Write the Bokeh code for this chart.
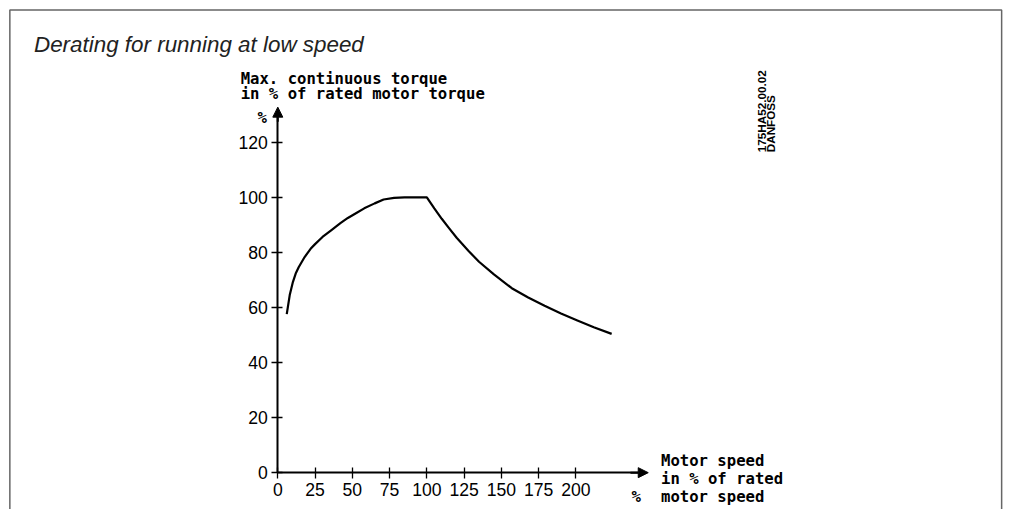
import math
from bokeh.plotting import figure
from bokeh.models import (LinearAxis, FixedTicker, Arrow, NormalHead, Label, BoxAnnotation)
from bokeh.embed import file_html
from bokeh.resources import INLINE

# ---- data ----
speed = [6, 8, 10, 12, 14, 18, 22, 25, 30, 36, 42, 47, 53, 58, 65, 71, 78, 85, 92, 100,
         105, 110, 115, 120, 128, 135, 145, 157, 168, 179, 190, 201, 212, 224]
torque = [57.6, 64.5, 69.0, 72.3, 74.6, 78.3, 81.3, 83.0, 85.6, 88.1, 90.6, 92.5, 94.4, 96.0,
          97.8, 99.2, 99.8, 100, 100, 100,
          96.0, 92.2, 88.7, 85.3, 80.5, 76.6, 72.0, 67.0, 63.6, 60.6, 57.8, 55.3, 52.8, 50.4]
x_ticks = [0, 25, 50, 75, 100, 125, 150, 175, 200]
y_ticks = [0, 20, 40, 60, 80, 100, 120]

title_text = "Derating for running at low speed"
y_label_lines = ["Max. continuous torque", "in % of rated motor torque"]
x_label_lines = ["Motor speed", "in % of rated", "motor speed"]
code_lines = ["175HA52.00.02", "DANFOSS"]

# ---- reference-pixel -> data helpers (layout only) ----
REF_W, REF_H = 1026, 525
W, H = 1010, 509
X0PX, XS = 281.7, 1.514
Y0PX, YS = 487.0, 2.84
F = 0.975  # size factor canvas/reference


def dx(px):
    return (px - X0PX) / XS


def dy(py):
    return (Y0PX - py) / YS


def fs(px):
    return "%.1fpx" % (px * F)


p = figure(width=W, height=H, x_range=(dx(0), dx(REF_W)), y_range=(dy(REF_H), dy(0)),
           output_backend="svg", toolbar_location=None,
           x_axis_type=None, y_axis_type=None,
           min_border=0, min_border_left=0, min_border_right=0,
           min_border_top=0, min_border_bottom=0)
p.outline_line_color = None
p.background_fill_color = "white"
p.border_fill_color = "white"
p.xgrid.visible = False
p.ygrid.visible = False

# frame border (open at the bottom: its lower edge lies beyond the canvas)
p.add_layout(BoxAnnotation(left=dx(9.5), right=dx(1017), top=dy(9.8), bottom=dy(560),
                           fill_color=None, fill_alpha=0, line_color="#666666",
                           line_width=1.5, line_alpha=1))


def style_axis(ax):
    ax.axis_line_width = 2
    ax.axis_line_color = "black"
    ax.major_tick_in = 5
    ax.major_tick_out = 6
    ax.major_tick_line_width = 1.3
    ax.major_tick_line_color = "black"
    ax.minor_tick_line_color = None
    ax.major_label_text_font = "Liberation Sans"
    ax.major_label_text_font_size = fs(18)
    ax.major_label_text_color = "black"
    ax.major_label_standoff = 4


xaxis = LinearAxis(fixed_location=0, bounds=(0, dx(648)), ticker=FixedTicker(ticks=x_ticks))
style_axis(xaxis)
p.add_layout(xaxis, "below")

yaxis = LinearAxis(fixed_location=0, bounds=(0, dy(120)), ticker=FixedTicker(ticks=y_ticks))
style_axis(yaxis)
p.add_layout(yaxis, "left")

# arrow heads
p.add_layout(Arrow(x_start=dx(640), y_start=0, x_end=dx(658), y_end=0,
                   line_width=2, line_color="black",
                   end=NormalHead(size=10, fill_color="black", line_color="black")))
p.add_layout(Arrow(x_start=0, y_start=dy(125), x_end=0, y_end=dy(110),
                   line_width=2, line_color="black",
                   end=NormalHead(size=10, fill_color="black", line_color="black")))

# curve
p.line(speed, torque, line_width=2.2, line_color="black", line_join="round")

# texts
p.add_layout(Label(x=dx(34), y=dy(45), text=title_text, text_font="Liberation Sans",
                   text_font_style="italic", text_font_size=fs(23), text_color="#222222",
                   text_baseline="alphabetic"))

mono = "DejaVu Sans Mono"
for line, base in zip(y_label_lines, [81, 96.5]):
    p.add_layout(Label(x=dx(244), y=dy(base), text=line, text_font=mono,
                       text_font_style="bold",
                       text_font_size=fs(16), text_color="black", text_baseline="alphabetic"))
p.add_layout(Label(x=dx(261), y=dy(121.5), text="%", text_font=mono, text_font_style="bold",
                   text_font_size=fs(16), text_color="black", text_baseline="alphabetic"))

for line, base in zip(x_label_lines, [475, 493.3, 511.7]):
    p.add_layout(Label(x=dx(671), y=dy(base), text=line, text_font=mono,
                       text_font_style="bold",
                       text_font_size=fs(16), text_color="black", text_baseline="alphabetic"))
p.add_layout(Label(x=dx(641), y=dy(511.7), text="%", text_font=mono, text_font_style="bold",
                   text_font_size=fs(16), text_color="black", text_baseline="alphabetic"))

for line, xb in zip(code_lines, [773.5, 782.5]):
    p.add_layout(Label(x=dx(xb), y=dy(156.5), text=line, text_font="Liberation Sans",
                       text_font_style="bold", text_font_size=fs(12), text_color="black",
                       angle=math.pi / 2, text_align="left", text_baseline="alphabetic"))

open("out.html", "w").write(file_html(p, INLINE))
